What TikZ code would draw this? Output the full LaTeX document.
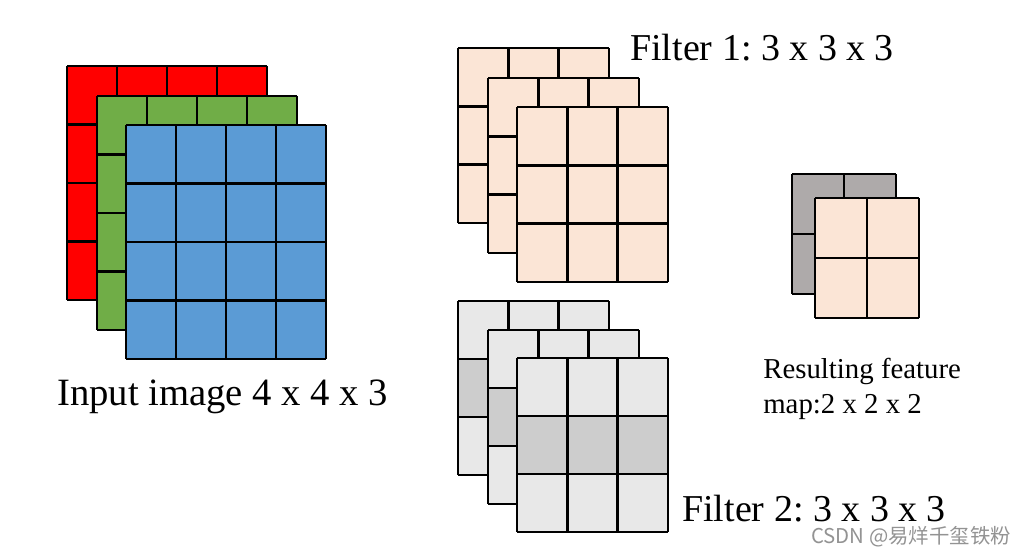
\documentclass[tikz,border=0pt]{standalone}
\usepackage{fontspec}
\setmainfont{Liberation Serif}
\newfontfamily\cjkmark{Noto Sans CJK SC}
\usepackage{tikz}
\usetikzlibrary{positioning}
\frenchspacing
\definecolor{chanred}{HTML}{FF0000}
\definecolor{changreen}{HTML}{70AD47}
\definecolor{chanblue}{HTML}{5B9BD5}
\definecolor{filterpeach}{HTML}{FBE5D6}
\definecolor{filtergray}{HTML}{E8E8E8}
\definecolor{filterdark}{HTML}{CDCDCD}
\definecolor{mapgray}{HTML}{AEAAAA}
\tikzset{
    layerline/.style={draw=black, line width=1.8pt, line join=miter},
    bigcaption/.style={anchor=base west, inner sep=0pt, font=\fontsize{27}{30}\selectfont},
    smallcaption/.style={anchor=base west, inner sep=0pt, font=\fontsize{20.5}{24}\selectfont},
    watermark/.style={anchor=base, inner sep=0pt, text=gray!85, font=\cjkmark\fontsize{14.5}{16}\selectfont}
}
% one channel of a tensor: x, y, cols, rows, cell w, cell h, fill, fill of row 2
\newcommand{\tensorlayer}[8]{%
    \fill[#7] (#1,#2) rectangle ++(#3*#5,#4*#6);
    \fill[#8] (#1,#2+#6) rectangle ++(#3*#5,#6);
    \foreach \c in {0,...,#3}
        \draw[layerline] (#1+\c*#5,#2) -- ++(0,#4*#6);
    \foreach \r in {0,...,#4}
        \draw[layerline] (#1,#2+\r*#6) -- ++(#3*#5,0);
}

\begin{document}
\begin{tikzpicture}[x=0.025cm, y=-0.025cm]
    \useasboundingbox[fill=white] (0,0) rectangle (1020,555);
    % input image 4 x 4 x 3
    \tensorlayer{67}{66}{4}{4}{50}{58.5}{chanred}{chanred}
    \tensorlayer{97}{96}{4}{4}{50}{58.5}{changreen}{changreen}
    \tensorlayer{126}{125}{4}{4}{50}{58.5}{chanblue}{chanblue}
    \node[bigcaption, font=\fontsize{27.5}{30}\selectfont] (inputlabel) at (57,405) {Input image 4 x 4 x 3};
    % filter 1
    \tensorlayer{458}{48}{3}{3}{50.3}{58.3}{filterpeach}{filterpeach}
    \tensorlayer{488}{78}{3}{3}{50.3}{58.3}{filterpeach}{filterpeach}
    \tensorlayer{517}{107}{3}{3}{50.3}{58.3}{filterpeach}{filterpeach}
    \node[bigcaption] (filteronelabel) at (630,60) {Filter 1: 3 x 3 x 3};
    % filter 2
    \tensorlayer{458}{301}{3}{3}{50.3}{58}{filtergray}{filterdark}
    \tensorlayer{488}{330}{3}{3}{50.3}{58}{filtergray}{filterdark}
    \tensorlayer{517}{358}{3}{3}{50.3}{58}{filtergray}{filterdark}
    \node[bigcaption] (filtertwolabel) at (682,521) {Filter 2: 3 x 3 x 3};
    % resulting feature map
    \tensorlayer{792}{174}{2}{2}{52}{60}{mapgray}{mapgray}
    \tensorlayer{815}{198}{2}{2}{52}{60}{filterpeach}{filterpeach}
    \node[smallcaption] (maplineone) at (763,378) {Resulting feature};
    \node[smallcaption] (maplinetwo) at (763,413) {map:2 x 2 x 2};
    \node[watermark] (csdnmark) at (911,543) {CSDN @易烊千玺铁粉};
\end{tikzpicture}
\end{document}
